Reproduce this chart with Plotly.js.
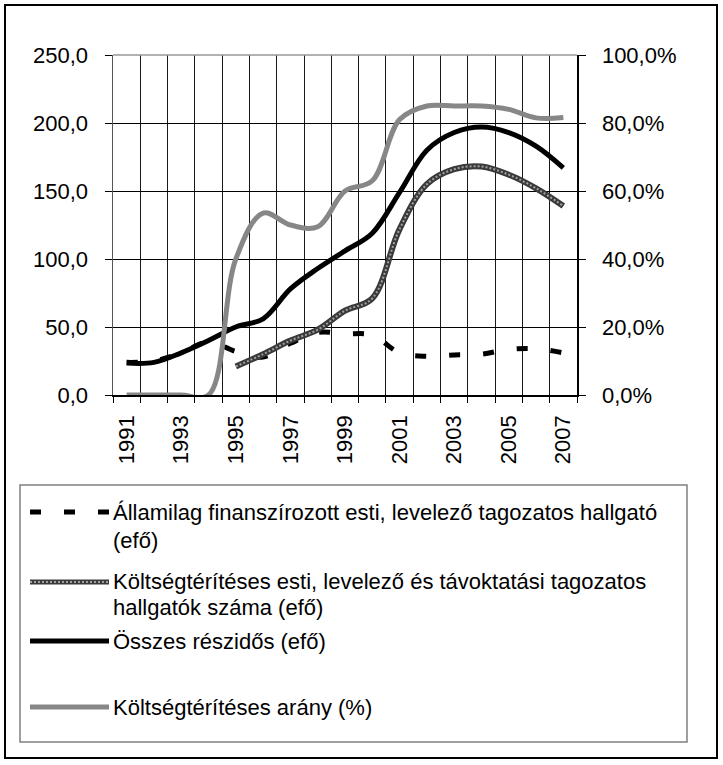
<!DOCTYPE html>
<html>
<head>
<meta charset="utf-8">
<script src="https://cdn.plot.ly/plotly-3.0.1.min.js"></script>
<style>
html,body{margin:0;padding:0;background:#fff;}
#chart{width:723px;height:765px;}
</style>
</head>
<body>
<div id="chart"></div>
<script>
// ---- data ----
var years = [1991,1992,1993,1994,1995,1996,1997,1998,1999,2000,2001,2002,2003,2004,2005,2006,2007];
var yearLabels = ["1991","1993","1995","1997","1999","2001","2003","2005","2007"];
var labelYears = [1991,1993,1995,1997,1999,2001,2003,2005,2007];
// Államilag finanszírozott esti, levelező tagozatos hallgató (efő)
var allami = [24,25,31,39,32,28,38,46,45,44,31,28.5,29.5,30,33.5,34,31];
// Költségtérítéses esti, levelező és távoktatási tagozatos hallgatók száma (efő)
var koltseg = [null,null,null,null,21,30,40,48,62,71,122,155,166,168,162,152,139];
// Összes részidős (efő)
var osszes = [23.5,24,31,40,50,56,78,93,106,119,149,180,193,197,193,183,167];
// Költségtérítéses arány (%)
var arany = [0,0,0,0,40,53.5,50,49.5,60,63,81,85,85,85,84,81.5,81.6];

var legendNames = [
  ["Államilag finanszírozott esti, levelező tagozatos hallgató", "(efő)"],
  ["Költségtérítéses esti, levelező és távoktatási tagozatos", "hallgatók száma (efő)"],
  ["Összes részidős (efő)"],
  ["Költségtérítéses arány (%)"]
];

// ---- geometry helpers ----
var W = 723, H = 765;
var M = {l:113, r:146, t:55, b:370};
var PW = W - M.l - M.r, PH = H - M.t - M.b;
function px(x){ return (x - M.l) / PW; }
function py(y){ return (H - M.b - y) / PH; }

var FONT = "Liberation Sans, Arial, sans-serif";
var FS = 22;

var traces = [
  {x: years, y: allami, type: 'scatter', mode: 'lines', showlegend: false, hoverinfo: 'skip',
   line: {color: '#000', width: 5, dash: '11px,23px', shape: 'spline'}},
  {x: years, y: koltseg, type: 'scatter', mode: 'lines', showlegend: false, hoverinfo: 'skip',
   line: {color: '#3a3a3a', width: 6, shape: 'spline'}},
  {x: years, y: koltseg, type: 'scatter', mode: 'lines', showlegend: false, hoverinfo: 'skip',
   line: {color: '#a0a0a0', width: 2, dash: '2px,2px', shape: 'spline'}},
  {x: years, y: osszes, type: 'scatter', mode: 'lines', showlegend: false, hoverinfo: 'skip',
   line: {color: '#000', width: 5, shape: 'spline'}},
  {x: years, y: arany, yaxis: 'y2', type: 'scatter', mode: 'lines', showlegend: false, hoverinfo: 'skip',
   line: {color: '#878787', width: 5, shape: 'spline'}}
];

var shapes = [];
var annotations = [];
// outer frame
shapes.push({type:'rect', xref:'paper', yref:'paper', x0:px(5), x1:px(717), y0:py(758), y1:py(5),
  line:{color:'#000', width:2}, layer:'below'});
// legend box
shapes.push({type:'rect', xref:'paper', yref:'paper', x0:px(20), x1:px(687), y0:py(742), y1:py(485),
  line:{color:'#808080', width:1.5}});
// legend samples
var rowsY = [512, 582, 641, 707];
var lineRows = [[512,540],[581,607],[641],[707]];
shapes.push({type:'line', xref:'paper', yref:'paper', x0:px(30), x1:px(109), y0:py(rowsY[0]), y1:py(rowsY[0]),
  line:{color:'#000', width:5, dash:'11px,23px'}});
shapes.push({type:'line', xref:'paper', yref:'paper', x0:px(30), x1:px(109), y0:py(rowsY[1]), y1:py(rowsY[1]),
  line:{color:'#3a3a3a', width:5}});
shapes.push({type:'line', xref:'paper', yref:'paper', x0:px(30), x1:px(109), y0:py(rowsY[1]), y1:py(rowsY[1]),
  line:{color:'#a0a0a0', width:2, dash:'2px,2px'}});
shapes.push({type:'line', xref:'paper', yref:'paper', x0:px(30), x1:px(109), y0:py(rowsY[2]), y1:py(rowsY[2]),
  line:{color:'#000', width:5}});
shapes.push({type:'line', xref:'paper', yref:'paper', x0:px(30), x1:px(109), y0:py(rowsY[3]), y1:py(rowsY[3]),
  line:{color:'#878787', width:5}});

for (var i = 0; i < legendNames.length; i++) {
  for (var j = 0; j < legendNames[i].length; j++) {
    annotations.push({xref:'paper', yref:'paper', x:px(111), y:py(lineRows[i][j]),
      xanchor:'left', yanchor:'middle', showarrow:false, text:legendNames[i][j],
      font:{family:FONT, size:FS, color:'#000'}});
  }
}

var layout = {
  width: W, height: H,
  margin: M,
  paper_bgcolor: '#fff', plot_bgcolor: '#fff',
  separators: ', ',
  font: {family: FONT, size: FS, color: '#000'},
  showlegend: false,
  xaxis: {
    range: [1990.5, 2007.5], showgrid: false, zeroline: false,
    tickmode: 'array', tickvals: labelYears, ticktext: yearLabels, ticks: '', tickangle: -90,
    ticklabelstandoff: 10,
    minor: {tick0: 1990.5, dtick: 1, showgrid: true, gridcolor: '#1a1a1a', gridwidth: 1,
            ticks: 'outside', ticklen: 6, tickcolor: '#000', tickwidth: 1},
    showline: true, linecolor: '#000', linewidth: 1.5, mirror: false,
    tickfont: {family: FONT, size: FS}
  },
  yaxis: {
    range: [0, 250], tickmode: 'linear', tick0: 0, dtick: 50, tickformat: '.1f',
    showgrid: true, gridcolor: '#000', gridwidth: 1, zeroline: false,
    ticks: 'outside', ticklen: 7, tickcolor: '#000', showline: true, linecolor: '#555', linewidth: 1.5,
    ticklabelstandoff: 12, tickfont: {family: FONT, size: FS}
  },
  yaxis2: {
    overlaying: 'y', side: 'right', range: [0, 100], tickmode: 'linear', tick0: 0, dtick: 20,
    tickformat: '.1f', ticksuffix: '%', showgrid: false, zeroline: false,
    ticks: 'outside', ticklen: 7, tickcolor: '#000', showline: true, linecolor: '#000', linewidth: 1.5,
    ticklabelstandoff: 12, tickfont: {family: FONT, size: FS}
  },
  shapes: shapes.concat([{type:'line', xref:'paper', yref:'paper', x0:0, x1:1, y0:1, y1:1,
    line:{color:'#999', width:1.5}}]),
  annotations: annotations
};

Plotly.newPlot('chart', traces, layout, {staticPlot: true, displayModeBar: false});
</script>
</body>
</html>
